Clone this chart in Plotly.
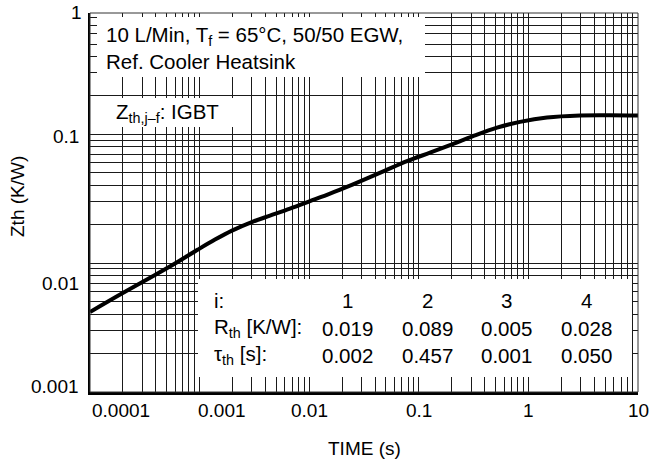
import math
import plotly.graph_objects as go

# ---- data ----
time_s = [1.0e-4, 1.918e-4, 3.918e-4, 5.964e-4, 9.670e-4, 1.382e-3, 1.975e-3,
          3.07e-3, 4.387e-3, 6.68e-3, 0.01017, 0.01548, 0.02356, 0.03097,
          0.04915, 0.07802, 0.1265, 0.1926, 0.3123, 0.5169, 0.8382, 1.478,
          2.957, 5.553, 10.0]
zth = [0.00417, 0.00575, 0.008072, 0.009911, 0.01273, 0.01521, 0.01786,
       0.02098, 0.02334, 0.02645, 0.03024, 0.03458, 0.03990, 0.04399,
       0.05213, 0.06176, 0.07188, 0.08217, 0.09649, 0.1123, 0.1245, 0.1348,
       0.1398, 0.1403, 0.1396]

x_tick_vals = [0.0001, 0.001, 0.01, 0.1, 1, 10]
x_tick_text = ["0.0001", "0.001", "0.01", "0.1", "1", "10"]
y_tick_vals = [0.001, 0.01, 0.1, 1]
y_tick_text = ["0.001", "0.01", "0.1", "1"]

table_index = ["1", "2", "3", "4"]
table_rth = ["0.019", "0.089", "0.005", "0.028"]
table_tau = ["0.002", "0.457", "0.001", "0.050"]

# ---- layout geometry (pixels of the 661x467 page) ----
W, H = 661, 467
L, R, T, B = 90, 638, 13, 392
FONT = "Liberation Sans, Arial, Helvetica, sans-serif"


def px(x):
    return (x - L) / (R - L)


def py(y):
    return (B - y) / (B - T)


grid_x = [m * 10.0 ** e for e in range(-4, 1) for m in range(1, 10)] + [10.0]
grid_y = [m * 10.0 ** e for e in range(-3, 0) for m in range(1, 10)]

fig = go.Figure()
fig.add_trace(go.Scatter(x=time_s, y=zth, mode="lines",
                         line=dict(color="black", width=4, shape="spline", smoothing=0.9),
                         hoverinfo="skip", showlegend=False))

fig.update_layout(
    width=W, height=H,
    margin=dict(l=L, r=W - R, t=T, b=H - B, pad=0),
    paper_bgcolor="white", plot_bgcolor="white",
    font=dict(family=FONT, size=19, color="black"),
    showlegend=False,
)
fig.update_xaxes(type="log", range=[-4, 1], tickvals=grid_x, showticklabels=False,
                 ticks="", showgrid=True, gridcolor="#1a1a1a", gridwidth=1,
                 showline=True, linecolor="black", linewidth=2.5, zeroline=False)
fig.update_yaxes(type="log", range=[-3, -0.06], tickvals=grid_y, showticklabels=False,
                 ticks="", showgrid=True, gridcolor="#1a1a1a", gridwidth=1,
                 showline=True, linecolor="black", linewidth=2.5, zeroline=False)

shapes = []
# thin frame (top / right)
shapes.append(dict(type="rect", xref="paper", yref="paper", x0=0, x1=1, y0=0, y1=1,
                   line=dict(color="#333", width=1), fillcolor="rgba(0,0,0,0)", layer="above"))
# white label boxes
for (x0, x1, y0, y1) in [(97, 425, 17, 77), (105, 235, 98, 127), (198, 632, 279, 377)]:
    shapes.append(dict(type="rect", xref="paper", yref="paper",
                       x0=px(x0), x1=px(x1), y0=py(y1), y1=py(y0),
                       line=dict(width=0), fillcolor="white", layer="above"))
fig.update_layout(shapes=shapes)

ann = []
TXT = 20.5
# x tick labels
for v, t in zip(x_tick_vals, x_tick_text):
    anchor, shift = "center", 0
    if v == 0.0001:
        anchor, shift = "left", 0
    elif v == 0.001:
        anchor, shift = "left", -4
    ann.append(dict(x=math.log10(v), xref="x", y=py(410), yref="paper", text=t,
                    showarrow=False, xanchor=anchor, yanchor="middle", xshift=shift,
                    font=dict(size=19)))
# y tick labels (the top one sits at the frame top)
yshifts = {"0.001": 6, "0.01": -20, "0.1": -2}
for v, t in zip(y_tick_vals, y_tick_text):
    if t == "1":
        ann.append(dict(x=px(84), xref="paper", y=py(12), yref="paper", text=t,
                        showarrow=False, xanchor="right", yanchor="middle",
                        font=dict(size=19)))
        continue
    ann.append(dict(x=px(81), xref="paper", y=math.log10(v), yref="y", text=t,
                    showarrow=False, xanchor="right", yanchor="middle",
                    yshift=yshifts[t], font=dict(size=19)))
# axis titles
ann.append(dict(x=px(364), y=py(448), xref="paper", yref="paper", text="TIME (s)",
                showarrow=False, xanchor="center", yanchor="middle", font=dict(size=19)))
ann.append(dict(x=px(18), y=py(197), xref="paper", yref="paper", text="Zth (K/W)",
                showarrow=False, xanchor="center", yanchor="middle", textangle=-90,
                font=dict(size=19)))
# condition box
ann.append(dict(x=px(104), y=py(36), xref="paper", yref="paper",
                text="10 L/Min, T<sub>f</sub> = 65°C, 50/50 EGW,",
                showarrow=False, xanchor="left", yanchor="middle", font=dict(size=TXT)))
ann.append(dict(x=px(104), y=py(61), xref="paper", yref="paper",
                text="Ref. Cooler Heatsink",
                showarrow=False, xanchor="left", yanchor="middle", font=dict(size=TXT)))
ann.append(dict(x=px(114), y=py(113), xref="paper", yref="paper",
                text="Z<sub>th,j\u2013f</sub>: IGBT",
                showarrow=False, xanchor="left", yanchor="middle", font=dict(size=TXT)))
# table
row_y = [300, 328, 355]
row_lab = ["i:", "R<sub>th</sub> [K/W]:", "\u03c4<sub>th</sub> [s]:"]
for yy, lab in zip(row_y, row_lab):
    ann.append(dict(x=px(212), y=py(yy), xref="paper", yref="paper", text=lab,
                    showarrow=False, xanchor="left", yanchor="middle", font=dict(size=TXT)))
col_x = [347, 427, 506, 586]
for cx, a, b, c in zip(col_x, table_index, table_rth, table_tau):
    for yy, t in zip(row_y, [a, b, c]):
        ann.append(dict(x=px(cx), y=py(yy), xref="paper", yref="paper", text=t,
                        showarrow=False, xanchor="center", yanchor="middle",
                        font=dict(size=TXT)))
fig.update_layout(annotations=ann)

# remove the browser's default 8px page margin so the figure fills the window
fig.write_html("out.html",
               config={"displayModeBar": False, "staticPlot": True},
               post_script="document.body.style.margin='0';document.body.style.overflow='hidden';")
